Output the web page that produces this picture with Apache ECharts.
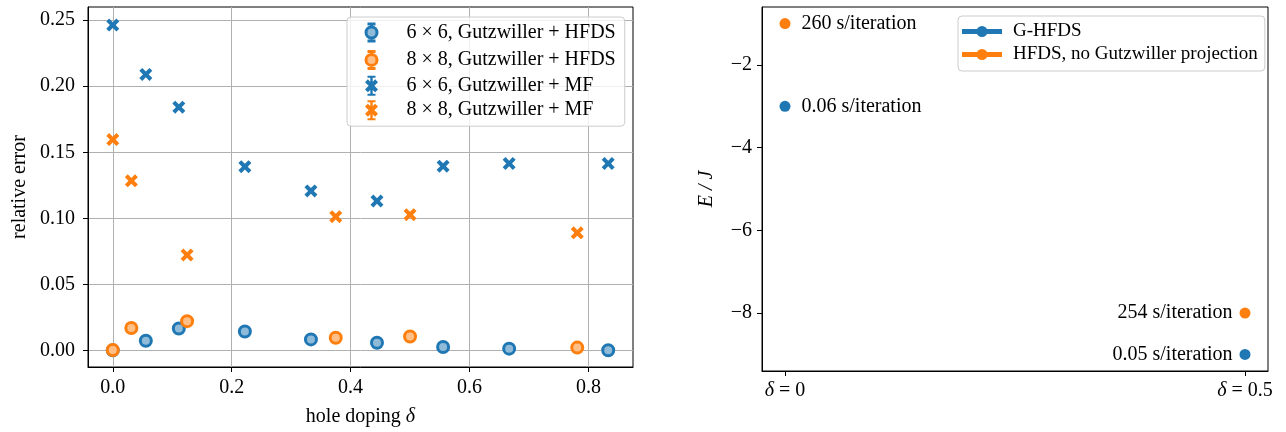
<!DOCTYPE html>
<html>

<head>
    <meta charset="utf-8">
    <title>Gutzwiller HFDS</title>
    <script src="https://cdn.jsdelivr.net/npm/echarts@6/dist/echarts.min.js"></script>
</head>

<body style="margin:0;background:#fff">
    <div id="main" style="width: 1286px;height:432px;"></div>
    <script type="text/javascript">
        // left panel: relative error vs hole doping
        var doping6 = [0, 0.0556, 0.1111, 0.2222, 0.3333, 0.4444, 0.5556, 0.6667, 0.8333];
        var doping8 = [0, 0.03125, 0.125, 0.375, 0.5, 0.78125];
        var hfds6 = [0.0000, 0.0073, 0.0165, 0.0143, 0.0083, 0.0058, 0.0026, 0.0013, 0.0001];
        var hfds8 = [0.0003, 0.0169, 0.0221, 0.0095, 0.0105, 0.0021];
        var mf6 = [0.2463, 0.2089, 0.1841, 0.1391, 0.1207, 0.1131, 0.1395, 0.1415, 0.1415];
        var mf8 = [0.1596, 0.1284, 0.0722, 0.1012, 0.1027, 0.0890];
        var xTicks = [0, 0.2, 0.4, 0.6, 0.8];
        var yTicks = [0, 0.05, 0.10, 0.15, 0.20, 0.25];

        // right panel: energies at two dopings
        var phaseTicks = ['δ = 0', 'δ = 0.5'];
        var ghfdsE = [-3.0, -9.0];
        var noGutzE = [-1.0, -8.0];
        var ghfdsTime = ['0.06 s/iteration', '0.05 s/iteration'];
        var noGutzTime = ['260 s/iteration', '254 s/iteration'];
        var eTicks = [-8, -6, -4, -2];

        var BLUE = '#1f77b4', ORANGE = '#ff7f0e';
        var FONT = 'Liberation Serif';
        var FS = 20;

        var xPath = 'path://M2.2 0L5 2.8L7.8 0L10 2.2L7.2 5L10 7.8L7.8 10L5 7.2L2.2 10L0 7.8L2.8 5L0 2.2Z';
        var circleLegend = 'path://M0 10L0 10M14 10L14 10M7 0L7 0M7 20L7 20' +
            'M1.5 10A5.5 5.5 0 1 1 12.5 10A5.5 5.5 0 1 1 1.5 10Z' +
            'M7 0.5L7 4.5M3 1.5L11 1.5M7 15.5L7 19.5M3 18.5L11 18.5';
        var crossLegend = 'path://M0 10L0 10M14 10L14 10' +
            'M3.36 3.5L7 7.14L10.64 3.5L13.5 6.36L9.86 10L13.5 13.64L10.64 16.5L7 12.86L3.36 16.5L0.5 13.64L4.14 10L0.5 6.36Z' +
            'M5.8 0H8.2V20H5.8Z M3 0H11V2H3Z M3 18H11V20H3Z';
        var lineLegend = 'path://M0 0L0 0M40 18L40 18M0 6.5H40V11.5H0Z M14.5 9A5.5 5.5 0 1 1 25.5 9A5.5 5.5 0 1 1 14.5 9Z';

        function pairs(xs, ys) {
            return ys.map(function (y, i) { return [xs[i], y]; });
        }

        var baseText = { fontFamily: FONT, fontSize: FS, color: '#000' };
        var italic = { fontFamily: FONT, fontSize: FS, fontStyle: 'italic', color: '#000' };
        var frameLine = { show: true, onZero: false, lineStyle: { color: '#000', width: 1 } };
        var tickStyle = { length: 5, inside: false, lineStyle: { color: '#000', width: 1 } };

        var chartDom = document.getElementById('main');
        var myChart = echarts.init(chartDom);
        var option;

        option = {
            animation: false,
            backgroundColor: '#fff',
            grid: [
                { left: 88, top: 7, width: 545, height: 366, show: true, borderColor: '#000', borderWidth: 1, backgroundColor: 'transparent' },
                { left: 762, top: 7, width: 506, height: 364, show: true, borderColor: '#000', borderWidth: 1, backgroundColor: 'transparent' }
            ],
            xAxis: [{
                gridIndex: 0,
                type: 'value',
                position: 'bottom',
                min: -0.041667,
                max: 0.875,
                name: 'hole doping {i|δ}',
                nameLocation: 'middle',
                nameGap: 40,
                nameTextStyle: { fontFamily: FONT, fontSize: FS, color: '#000', rich: { i: italic } },
                axisLine: frameLine,
                axisTick: Object.assign({ customValues: xTicks }, tickStyle),
                axisLabel: {
                    customValues: xTicks, margin: 11, fontFamily: FONT, fontSize: FS, color: '#000',
                    formatter: function (v) { return v.toFixed(1); }
                },
                splitLine: { show: true, lineStyle: { color: '#b0b0b0', width: 1 } }
            }, {
                gridIndex: 1,
                type: 'value',
                position: 'bottom',
                min: -0.05,
                max: 1.05,
                axisLine: frameLine,
                axisTick: Object.assign({ customValues: [0, 1] }, tickStyle),
                axisLabel: {
                    customValues: [0, 1], margin: 10, fontFamily: FONT, fontSize: FS, color: '#000',
                    formatter: function (v) { return phaseTicks[Math.round(v)].replace('δ', '{i|δ}'); },
                    rich: { i: italic }
                },
                splitLine: { show: false }
            }],
            yAxis: [{
                gridIndex: 0,
                type: 'value',
                position: 'left',
                min: -0.0126,
                max: 0.26,
                name: 'relative error',
                nameLocation: 'middle',
                nameGap: 58,
                nameTextStyle: baseText,
                axisLine: frameLine,
                axisTick: Object.assign({ customValues: yTicks }, tickStyle),
                axisLabel: {
                    customValues: yTicks, margin: 13, fontFamily: FONT, fontSize: FS, color: '#000',
                    formatter: function (v) { return v.toFixed(2); }
                },
                splitLine: { show: true, lineStyle: { color: '#b0b0b0', width: 1 } }
            }, {
                gridIndex: 1,
                type: 'value',
                position: 'left',
                min: -9.4,
                max: -0.6,
                name: 'E / J',
                nameLocation: 'middle',
                nameGap: 45,
                nameTextStyle: italic,
                axisLine: frameLine,
                axisTick: Object.assign({ customValues: eTicks }, tickStyle),
                axisLabel: {
                    customValues: eTicks, margin: 10, fontFamily: FONT, fontSize: FS, color: '#000',
                    formatter: function (v) { return (v < 0 ? '\u2212' : '') + Math.abs(v); }
                },
                splitLine: { show: false }
            }],
            legend: [{
                left: 347,
                top: 17,
                orient: 'vertical',
                itemWidth: 14,
                itemHeight: 20,
                itemGap: 4.4,
                padding: [4, 9, 6, 16],
                backgroundColor: 'rgba(255,255,255,0.8)',
                borderColor: '#cccccc',
                borderWidth: 1,
                borderRadius: 4,
                textStyle: { fontFamily: FONT, fontSize: FS, color: '#000', lineHeight: 20, padding: [0, 0, 0, 23] },
                data: [
                    { name: '6 × 6, Gutzwiller + HFDS', icon: circleLegend, itemStyle: { color: '#8fbbd9', borderColor: BLUE, borderWidth: 3 } },
                    { name: '8 × 8, Gutzwiller + HFDS', icon: circleLegend, itemStyle: { color: '#ffbf86', borderColor: ORANGE, borderWidth: 3 } },
                    { name: '6 × 6, Gutzwiller + MF', icon: crossLegend, itemStyle: { color: BLUE, borderWidth: 0 } },
                    { name: '8 × 8, Gutzwiller + MF', icon: crossLegend, itemStyle: { color: ORANGE, borderWidth: 0 } }
                ]
            }, {
                left: 958,
                top: 16,
                orient: 'vertical',
                itemWidth: 40,
                itemHeight: 18,
                itemGap: 4,
                padding: [6, 7, 7, 4],
                backgroundColor: 'rgba(255,255,255,0.8)',
                borderColor: '#cccccc',
                borderWidth: 1,
                borderRadius: 4,
                textStyle: { fontFamily: FONT, fontSize: 19, color: '#000', lineHeight: 18, padding: [0, 0, 0, 6] },
                data: [
                    { name: 'G-HFDS', icon: lineLegend, itemStyle: { color: BLUE, borderWidth: 0 } },
                    { name: 'HFDS, no Gutzwiller projection', icon: lineLegend, itemStyle: { color: ORANGE, borderWidth: 0 } }
                ]
            }],
            series: [{
                name: '6 × 6, Gutzwiller + HFDS',
                type: 'scatter',
                xAxisIndex: 0, yAxisIndex: 0,
                symbol: 'circle',
                symbolSize: 11,
                itemStyle: { color: '#8fbbd9', borderColor: BLUE, borderWidth: 3, opacity: 1 },
                data: pairs(doping6, hfds6)
            }, {
                name: '8 × 8, Gutzwiller + HFDS',
                type: 'scatter',
                xAxisIndex: 0, yAxisIndex: 0,
                symbol: 'circle',
                symbolSize: 11,
                itemStyle: { color: '#ffbf86', borderColor: ORANGE, borderWidth: 3, opacity: 1 },
                data: pairs(doping8, hfds8)
            }, {
                name: '6 × 6, Gutzwiller + MF',
                type: 'scatter',
                xAxisIndex: 0, yAxisIndex: 0,
                symbol: xPath,
                symbolSize: 13,
                itemStyle: { color: BLUE, opacity: 1 },
                data: pairs(doping6, mf6)
            }, {
                name: '8 × 8, Gutzwiller + MF',
                type: 'scatter',
                xAxisIndex: 0, yAxisIndex: 0,
                symbol: xPath,
                symbolSize: 13,
                itemStyle: { color: ORANGE, opacity: 1 },
                data: pairs(doping8, mf8)
            }, {
                name: 'G-HFDS',
                type: 'scatter',
                xAxisIndex: 1, yAxisIndex: 1,
                symbol: 'circle',
                symbolSize: 11,
                itemStyle: { color: BLUE, opacity: 1 },
                label: {
                    show: true, fontFamily: FONT, fontSize: FS, color: '#000',
                    formatter: function (p) { return ghfdsTime[p.dataIndex]; }
                },
                data: ghfdsE.map(function (v, i) {
                    return { value: [i, v], label: { position: i === 0 ? 'right' : 'left', distance: i === 0 ? 11 : 7 } };
                })
            }, {
                name: 'HFDS, no Gutzwiller projection',
                type: 'scatter',
                xAxisIndex: 1, yAxisIndex: 1,
                symbol: 'circle',
                symbolSize: 11,
                itemStyle: { color: ORANGE, opacity: 1 },
                label: {
                    show: true, fontFamily: FONT, fontSize: FS, color: '#000',
                    formatter: function (p) { return noGutzTime[p.dataIndex]; }
                },
                data: noGutzE.map(function (v, i) {
                    return { value: [i, v], label: { position: i === 0 ? 'right' : 'left', distance: i === 0 ? 11 : 7 } };
                })
            }]
        };

        option && myChart.setOption(option);
    </script>
</body>

</html>
